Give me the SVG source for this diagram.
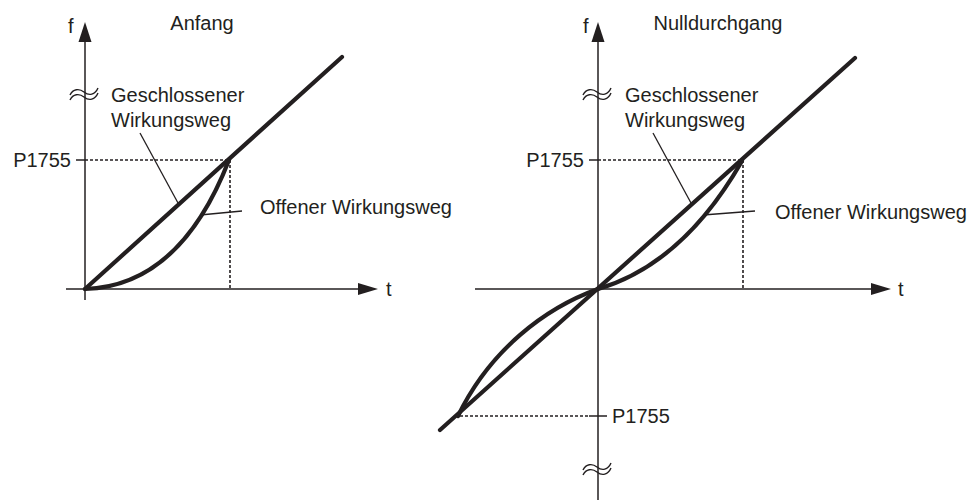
<svg xmlns="http://www.w3.org/2000/svg" width="976" height="500" viewBox="0 0 976 500">
<style>
text{font-family:"Liberation Sans",Arial,sans-serif;font-size:20px;fill:#231f20}
.ax{stroke:#231f20;stroke-width:1.5;fill:none}
.thick{stroke:#231f20;stroke-width:4.2;fill:none;stroke-linecap:round}
.lead{stroke:#231f20;stroke-width:1.3;fill:none}
.dash{stroke:#231f20;stroke-width:1.6;fill:none;stroke-dasharray:3,2}
.tip{fill:#231f20}
.brk{stroke:#231f20;stroke-width:1.4;fill:none}
</style>
<rect width="976" height="500" fill="#fff"/>
<g id="left-chart">
<g id="left-axes">
<line class="ax" x1="85" y1="40" x2="85" y2="300"/>
<polygon class="tip" points="85,22 78.5,42 91.5,42"/>
<line class="ax" x1="66" y1="289" x2="360" y2="289"/>
<polygon class="tip" points="378,289 358,283 358,295"/>
<text x="68" y="33">f</text>
<text x="386" y="296">t</text>
<path class="brk" d="M70,95 c3,-6 9,-7 14,-3 s11,3 14,-4"/>
<path class="brk" d="M70,100 c3,-6 9,-7 14,-3 s11,3 14,-4"/>
</g>
<g id="left-p1755">
<line class="ax" x1="76" y1="160" x2="85" y2="160"/>
<line class="dash" x1="85" y1="160" x2="230" y2="160"/>
<line class="dash" x1="230" y1="160" x2="230" y2="289"/>
<text x="71" y="167" text-anchor="end">P1755</text>
</g>
<g id="left-curves">
<line class="thick" x1="85" y1="289" x2="342" y2="57"/>
<path class="thick" d="M85,289 Q180,286 229,160"/>
</g>
<text x="202" y="30" text-anchor="middle">Anfang</text>
<g id="left-labels">
<text x="111" y="102">Geschlossener</text>
<text x="111" y="127">Wirkungsweg</text>
<line class="lead" x1="140" y1="133" x2="178" y2="203"/>
<text x="260" y="214">Offener Wirkungsweg</text>
<line class="lead" x1="200" y1="215" x2="242" y2="211"/>
</g>
</g>
<g id="right-chart">
<g id="right-axes">
<line class="ax" x1="598" y1="40" x2="598" y2="500"/>
<polygon class="tip" points="598,22 591.5,42 604.5,42"/>
<line class="ax" x1="475" y1="289" x2="874" y2="289"/>
<polygon class="tip" points="891,289 871,283 871,295"/>
<text x="583" y="33">f</text>
<text x="898" y="296">t</text>
<path class="brk" d="M583,95 c3,-6 9,-7 14,-3 s11,3 14,-4"/>
<path class="brk" d="M583,100 c3,-6 9,-7 14,-3 s11,3 14,-4"/>
<path class="brk" d="M583,470 c3,-6 9,-7 14,-3 s11,3 14,-4"/>
<path class="brk" d="M583,475 c3,-6 9,-7 14,-3 s11,3 14,-4"/>
</g>
<g id="right-p1755">
<line class="ax" x1="589" y1="160" x2="598" y2="160"/>
<line class="dash" x1="598" y1="160" x2="743" y2="160"/>
<line class="dash" x1="743" y1="160" x2="743" y2="289"/>
<text x="584" y="167" text-anchor="end">P1755</text>
<line class="dash" x1="460" y1="416" x2="589" y2="416"/>
<line class="ax" x1="589" y1="416" x2="607" y2="416"/>
<text x="612" y="423">P1755</text>
</g>
<g id="right-curves">
<line class="thick" x1="440" y1="430" x2="855" y2="58"/>
<path class="thick" d="M598,289 Q683,264 742,161"/>
<path class="thick" d="M598,289 C545,308 490,350 458,416"/>
</g>
<text x="718" y="30" text-anchor="middle">Nulldurchgang</text>
<g id="right-labels">
<text x="625" y="102">Geschlossener</text>
<text x="625" y="127">Wirkungsweg</text>
<line class="lead" x1="653" y1="133" x2="691" y2="203"/>
<text x="775" y="219">Offener Wirkungsweg</text>
<line class="lead" x1="703" y1="215" x2="755" y2="211"/>
</g>
</g>
</svg>
